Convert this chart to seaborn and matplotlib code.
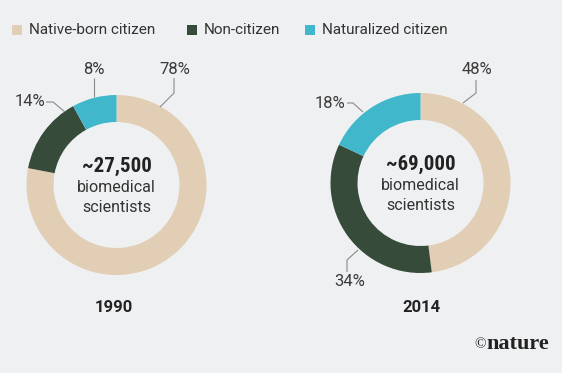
import matplotlib
matplotlib.use("Agg")
import matplotlib.pyplot as plt
import seaborn as sns
import numpy as np

# data
categories = ["Native-born citizen", "Non-citizen", "Naturalized citizen"]
years = ["1990", "2014"]
shares_1990 = [78, 14, 8]
shares_2014 = [48, 34, 18]
totals = ["~27,500", "~69,000"]

BG = "#eff0f2"
colors = sns.color_palette(["#e2cdb5", "#374b3a", "#40b7cb"])

sns.set_theme(style="white", rc={"figure.facecolor": BG, "axes.facecolor": BG})
plt.rcParams["font.family"] = ["Roboto", "DejaVu Sans"]

W, H = 562, 373
fig = plt.figure(figsize=(5.62, 3.73), dpi=100)
ax = fig.add_axes([0, 0, 1, 1])


def py(y):
    # pixel row -> data y
    return H - y


R = 90
ring = 0.30
centers = [(116.5, py(185)), (420.5, py(183))]
all_shares = [shares_1990, shares_2014]

for (cx, cy), shares in zip(centers, all_shares):
    ax.pie(shares, colors=colors, startangle=90, counterclock=False,
           center=(cx, cy), radius=R,
           wedgeprops=dict(width=R * ring, linewidth=0))

ax.set_xlim(0, W)
ax.set_ylim(0, H)
ax.set_aspect("equal")
ax.axis("off")

# leader lines: (text, text x, text y, anchor, path points in pixels)
line_col = "#8a8a8a"
leaders = [
    ("78%", 175, 70, "center", [(174, 78), (174, 93), (160, 107)]),
    ("8%", 94, 70, "center", [(94, 78), (94, 97)]),
    ("14%", 45, 102, "right", [(46, 102), (53, 102), (65, 112)]),
    ("48%", 477, 70, "center", [(476, 80), (476, 93), (463, 103)]),
    ("18%", 345, 103, "right", [(347, 103), (353, 103), (363, 112)]),
    ("34%", 350, 281, "center", [(347, 272), (347, 260), (358, 250)]),
]
for txt, tx, ty, ha, pts in leaders:
    xs = [p[0] for p in pts]
    ys = [py(p[1]) for p in pts]
    ax.plot(xs, ys, color=line_col, lw=0.8, solid_capstyle="butt")
    ax.text(tx, py(ty), txt, ha=ha, va="center", fontsize=12,
            color="#3a3a3a")

# centre text and year labels
for (cx, cy), tot, yr in zip(centers, totals, years):
    ax.text(cx, cy + 19, tot, ha="center", va="center", fontsize=15,
            fontweight="bold", color="#222222",
            family=["Liberation Sans Narrow", "Roboto Condensed", "Roboto"])
    ax.text(cx, cy - 3, "biomedical", ha="center", va="center",
            fontsize=11.5, color="#333333")
    ax.text(cx, cy - 22, "scientists", ha="center", va="center",
            fontsize=11.5, color="#333333")

ax.text(114, py(307), years[0], ha="center", va="center", fontsize=12,
        fontweight="bold", color="#222222")
ax.text(421, py(307), years[1], ha="center", va="center", fontsize=12,
        fontweight="bold", color="#222222")

# legend
leg_x = [12, 187, 305]
for lx, lab, c in zip(leg_x, categories, colors):
    ax.add_patch(plt.Rectangle((lx, py(35)), 10, 10, color=c, lw=0))
    ax.text(lx + 17, py(30), lab, ha="left", va="center", fontsize=11,
            color="#333333")

# credit
ax.text(549, py(344), "nature", ha="right", va="center", fontsize=16,
        fontweight="bold", color="#222222",
        family=["Liberation Serif", "DejaVu Serif"])
ax.text(486, py(345), "©", ha="right", va="center", fontsize=11,
        color="#222222", family=["Liberation Serif", "DejaVu Serif"])

fig.savefig("out.png", dpi=100, facecolor=BG)
